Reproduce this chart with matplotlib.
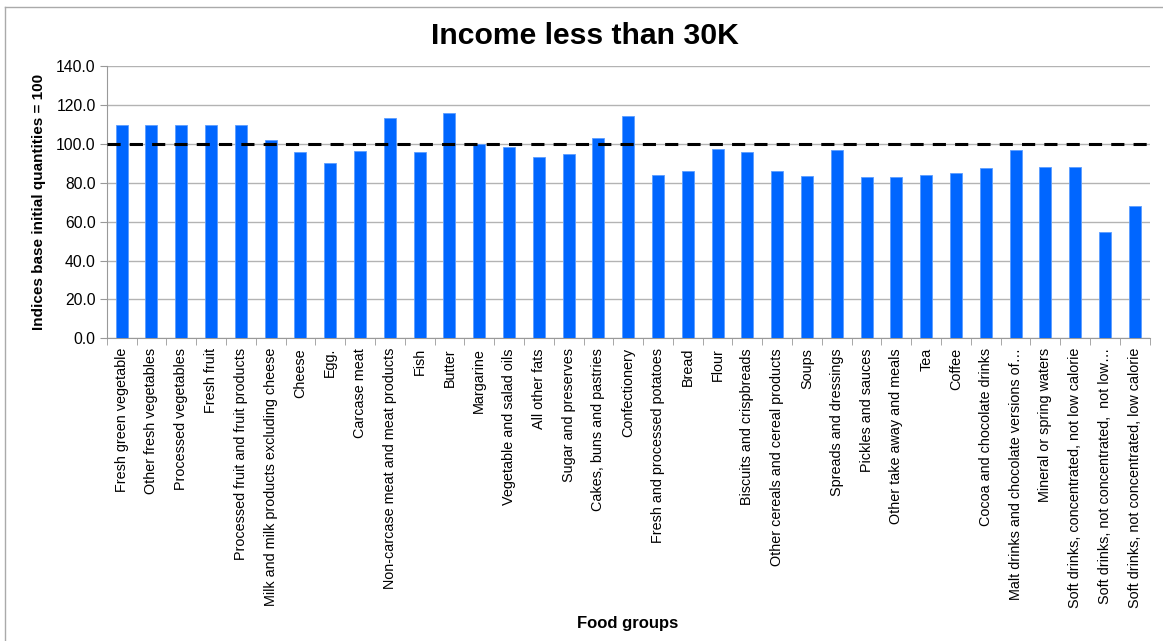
import numpy as np
import matplotlib.pyplot as plt
from matplotlib.lines import Line2D

plt.rcParams['font.family'] = ['Liberation Sans', 'DejaVu Sans']

# Food groups and index values (base initial quantities = 100)
food_groups = [
    "Fresh green vegetable", "Other fresh vegetables", "Processed vegetables",
    "Fresh fruit", "Processed fruit and fruit products",
    "Milk and milk products excluding cheese", "Cheese", "Egg.", "Carcase meat",
    "Non-carcase meat and meat products", "Fish", "Butter", "Margarine",
    "Vegetable and salad oils", "All other fats", "Sugar and preserves",
    "Cakes, buns and pastries", "Confectionery", "Fresh and processed potatoes",
    "Bread", "Flour", "Biscuits and crispbreads", "Other cereals and cereal products",
    "Soups", "Spreads and dressings", "Pickles and sauces", "Other take away and meals",
    "Tea", "Coffee", "Cocoa and chocolate drinks",
    "Malt drinks and chocolate versions of\u2026", "Mineral or spring waters",
    "Soft drinks, concentrated, not low calorie",
    "Soft drinks, not concentrated,  not low\u2026",
    "Soft drinks, not concentrated, low calorie",
]
indices = [
    109.5, 109.5, 109.5, 109.5, 109.5, 102.0, 95.9, 90.1, 96.3, 113.3,
    95.6, 115.8, 99.9, 98.2, 93.1, 94.8, 103.1, 114.3, 84.0, 85.9,
    97.2, 95.6, 85.9, 83.3, 96.7, 82.9, 82.9, 84.0, 84.8, 87.6,
    96.7, 87.9, 87.9, 54.5, 68.0,
]
baseline = 100

fig = plt.figure(figsize=(11.63, 6.41), dpi=100)
ax = fig.add_axes([0.0918, 0.4722, 0.8967, 0.4248])

x = np.arange(len(food_groups))
ax.bar(x, indices, width=0.4, color='#0066ff', edgecolor='#5c9dff',
       linewidth=0.6, zorder=3)
ax.axhline(baseline, color='black', linewidth=2.2, dashes=(4.3, 3),
           zorder=4)

ax.set_xlim(-0.5, len(food_groups) - 0.5)
ax.set_ylim(0, 140)
ax.set_yticks(np.arange(0, 141, 20))
ax.set_yticklabels([f"{v:.1f}" for v in np.arange(0, 141, 20)], fontsize=11.3)
ax.yaxis.grid(True, color='#b3b3b3', linewidth=1, zorder=0)

# category labels centred on bars, tick marks between categories
ax.set_xticks(x)
ax.set_xticklabels(food_groups, rotation=90, fontsize=10.4)
ax.tick_params(axis='x', length=0, pad=7)
ax.set_xticks(np.arange(-0.5, len(food_groups)), minor=True)
ax.tick_params(axis='x', which='minor', length=5, color='#999999')
ax.tick_params(axis='y', length=5, color='#999999', pad=3)

for side in ['top', 'right']:
    ax.spines[side].set_visible(False)
for side in ['left', 'bottom']:
    ax.spines[side].set_color('#999999')

ax.set_ylabel("Indices base initial quantities = 100", fontsize=11,
              fontweight='bold', labelpad=7)
fig.suptitle("Income less than 30K", x=0.503, y=0.965, fontsize=21.7,
             fontweight='bold')
fig.text(0.54, 0.02, "Food groups", ha='center', fontsize=12,
         fontweight='bold')

# thin frame along the top and left edges
fig.add_artist(Line2D([0.0045, 0.0045], [0, 0.989], color='#aaaaaa',
                      linewidth=1, transform=fig.transFigure))
fig.add_artist(Line2D([0.0045, 1], [0.989, 0.989], color='#aaaaaa',
                      linewidth=1, transform=fig.transFigure))

fig.savefig("out.png", dpi=100)
